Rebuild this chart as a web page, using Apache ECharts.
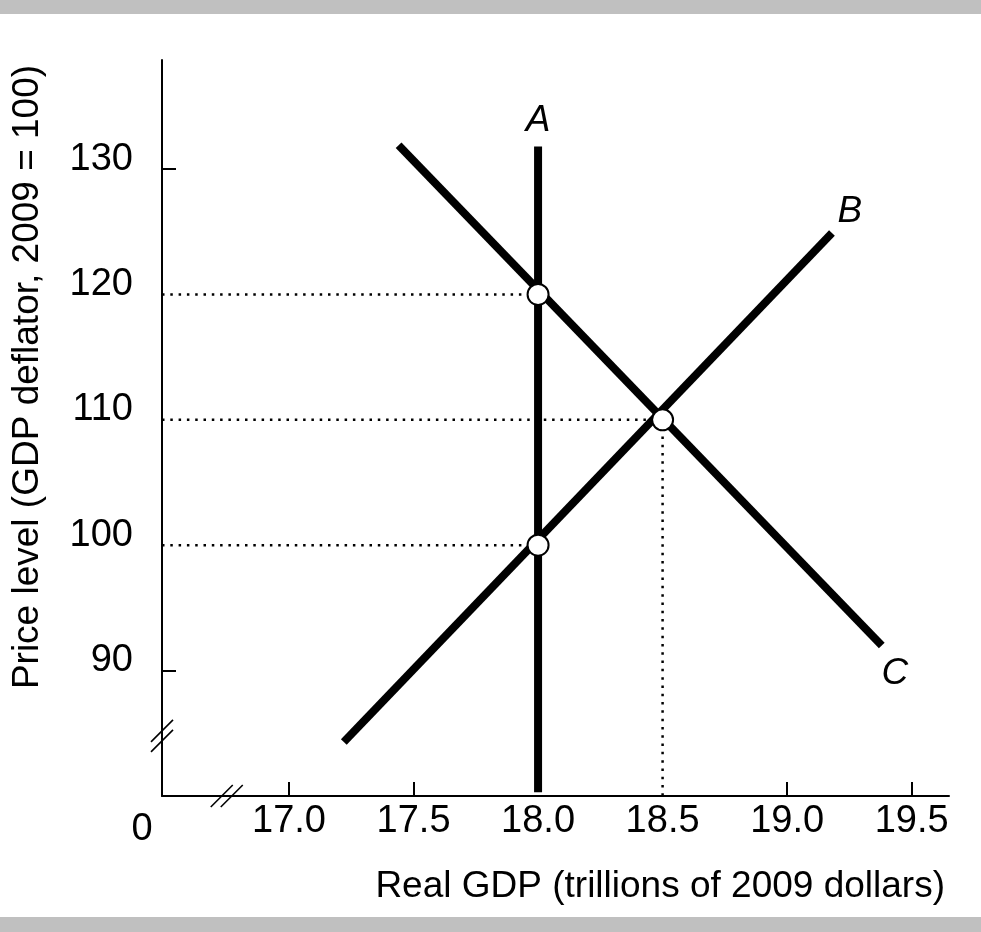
<!DOCTYPE html>
<html>
<head>
<meta charset="utf-8">
<script src="https://cdn.jsdelivr.net/npm/echarts@6/dist/echarts.min.js"></script>
<style>
  html, body { margin: 0; padding: 0; background: #fff; }
  #main { width: 981px; height: 932px; }
</style>
</head>
<body>
<div id="main"></div>
<script>
// axis ranges and tick labels
var xMin = 16.49, xMax = 19.65;
var yMin = 80, yMax = 138.7;
var xLabels = [17.0, 17.5, 18.0, 18.5, 19.0, 19.5];
var xTickMarks = [17.0, 17.5, 19.0, 19.5];
var yLabels = [90, 100, 110, 120, 130];
var yTickMarks = [90, 130];

// the three curves, [real GDP, price level]
var curveA = [[18.0, 80.3], [18.0, 131.8]];
var curveB = [[17.22, 84.3], [19.18, 124.9]];
var curveC = [[17.44, 131.9], [19.38, 92.0]];

// equilibrium points
var points = [[18.0, 120], [18.5, 110], [18.0, 100]];
// dotted guides: horizontal to the price axis, vertical to the GDP axis
var guidesH = [[18.0, 120], [18.5, 110], [18.0, 100]];
var guidesV = [[18.5, 110]];

var FONT = 'Liberation Sans';

var chart = echarts.init(document.getElementById('main'));

var series = [];
guidesH.forEach(function (g) {
    series.push({
        type: 'line', symbol: 'none', silent: true,
        data: [[xMin, g[1]], [g[0], g[1]]],
        lineStyle: {color: '#000', width: 2.5, type: [2.5, 5.8]}
    });
});
guidesV.forEach(function (g) {
    series.push({
        type: 'line', symbol: 'none', silent: true,
        data: [[g[0], g[1]], [g[0], yMin]],
        lineStyle: {color: '#000', width: 2.5, type: [2.5, 5.8]}
    });
});
[curveA, curveB, curveC].forEach(function (c) {
    series.push({
        type: 'line', symbol: 'none', silent: true,
        data: c,
        lineStyle: {color: '#000', width: 8, cap: 'butt'}
    });
});
series.push({
    type: 'scatter', silent: true, z: 5,
    data: points,
    symbol: 'circle', symbolSize: 21,
    itemStyle: {color: '#fff', borderColor: '#000', borderWidth: 2, opacity: 1}
});

chart.setOption({
    animation: false,
    grid: {left: 162, top: 60, width: 787, height: 736, containLabel: false},
    xAxis: {
        type: 'value', min: xMin, max: xMax,
        splitLine: {show: false},
        axisLine: {show: true, lineStyle: {color: '#000', width: 2}},
        axisTick: {show: true, inside: true, length: 14, customValues: xTickMarks,
            lineStyle: {color: '#000', width: 2}},
        axisLabel: {customValues: xLabels, color: '#000', fontFamily: FONT, fontSize: 38, margin: 7,
            formatter: function (v) { return v.toFixed(1); }},
        name: 'Real GDP (trillions of 2009 dollars)',
        nameLocation: 'end', nameGap: -4,
        nameTextStyle: {color: '#000', fontFamily: FONT, fontSize: 37, align: 'right',
            verticalAlign: 'top', padding: [72, 0, 0, 0]}
    },
    yAxis: {
        type: 'value', min: yMin, max: yMax,
        splitLine: {show: false},
        axisLine: {show: true, lineStyle: {color: '#000', width: 2}},
        axisTick: {show: true, inside: true, length: 14, customValues: yTickMarks,
            lineStyle: {color: '#000', width: 2}},
        axisLabel: {customValues: yLabels, color: '#000', fontFamily: FONT, fontSize: 38, margin: 29,
            verticalAlign: 'bottom', lineHeight: 20},
        name: 'Price level (GDP deflator, 2009 = 100)',
        nameLocation: 'middle', nameRotate: 90, nameGap: 134,
        nameTextStyle: {color: '#000', fontFamily: FONT, fontSize: 37, verticalAlign: 'middle',
            padding: [0, 0, 0, 102]}
    },
    series: series
});

// annotations placed through the chart's own scales
function px(p) { return chart.convertToPixel({gridIndex: 0}, p); }

function letter(txt, p, dx, dy) {
    var q = px(p);
    return {type: 'text', x: q[0] + dx, y: q[1] + dy, silent: true,
        style: {text: txt, fill: '#000', fontFamily: FONT, fontSize: 37, fontStyle: 'italic',
            align: 'center', verticalAlign: 'middle'}};
}

function breakMarks(c, dx, dy) {
    var out = [];
    [[-dx, -dy], [dx, dy]].forEach(function (o) {
        var cx = c[0] + o[0], cy = c[1] + o[1];
        out.push({type: 'line', silent: true,
            shape: {x1: cx - 11, y1: cy + 11, x2: cx + 11, y2: cy - 11},
            style: {stroke: '#000', lineWidth: 1.6}});
    });
    return out;
}

var origin = px([xMin, yMin]);
var graphics = [
    {type: 'rect', silent: true, shape: {x: 0, y: 0, width: 981, height: 14}, style: {fill: '#c0c0c0'}},
    {type: 'rect', silent: true, shape: {x: 0, y: 917, width: 981, height: 15}, style: {fill: '#c0c0c0'}},
    letter('A', curveA[1], 0, -26),
    letter('B', curveB[1], 18, -21),
    letter('C', curveC[1], 13, 28),
    {type: 'text', x: origin[0] - 20, y: origin[1] + 34, silent: true,
        style: {text: '0', fill: '#000', fontFamily: FONT, fontSize: 38, align: 'center', verticalAlign: 'middle'}}
];
graphics = graphics.concat(breakMarks(px([xMin, 84.8]), 0, 5));
graphics = graphics.concat(breakMarks(px([16.75, yMin]), 5, 0));

chart.setOption({graphic: graphics});
</script>
</body>
</html>
